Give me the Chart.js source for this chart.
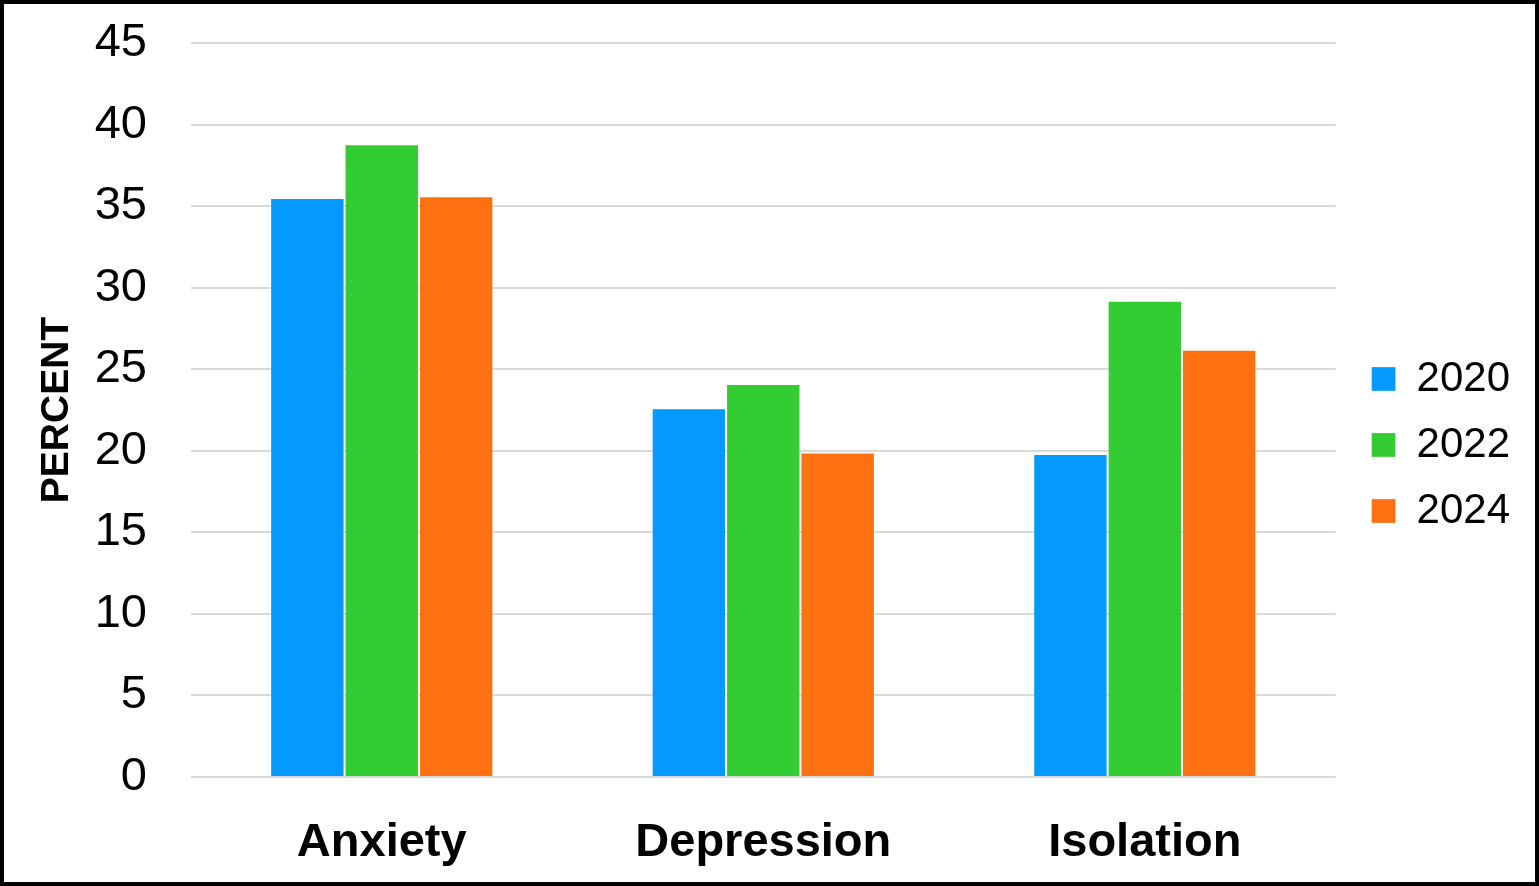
<!DOCTYPE html>
<html>
<head>
<meta charset="utf-8">
<script src="https://cdn.jsdelivr.net/npm/chart.js@4.4.1/dist/chart.umd.min.js"></script>
<style>
  html, body { margin: 0; padding: 0; background: #fff; }
  #wrap { position: absolute; left: 0; top: 0; width: 1539px; height: 886px; box-sizing: border-box; border: 4px solid #000; background: #fff; }
  #c { display: block; }
</style>
</head>
<body>
<div id="wrap"><canvas id="c" width="1531" height="878"></canvas></div>
<script>
const categories = ["Anxiety", "Depression", "Isolation"];
const seriesNames = ["2020", "2022", "2024"];
const values2020 = [35.5, 22.6, 19.8];
const values2022 = [38.8, 24.1, 29.2];
const values2024 = [35.6, 19.9, 26.2];
const yTicks = [0, 5, 10, 15, 20, 25, 30, 35, 40, 45];
const colors = ["#0399FF", "#33CC33", "#FF7010"];

const FONT = "'Liberation Sans', Arial, sans-serif";

// nudge the legend after layout (keeps the plot area size)
const legendShift = {
  id: 'legendShift',
  afterLayout(chart) {
    const lg = chart.legend;
    if (lg) {
      lg.left += 12; lg.right += 12;
      lg.top -= 17; lg.bottom -= 17;
    }
  }
};

new Chart(document.getElementById('c'), {
  type: 'bar',
  data: {
    labels: categories,
    datasets: [values2020, values2022, values2024].map((v, i) => ({
      label: seriesNames[i],
      data: v,
      backgroundColor: colors[i],
      borderColor: 'rgba(255,255,255,0.3)',
      borderWidth: 1,
      barPercentage: 1.0,
      categoryPercentage: 0.585
    }))
  },
  plugins: [legendShift],
  options: {
    responsive: false,
    animation: false,
    devicePixelRatio: 1,
    layout: { padding: { top: 39, right: 27, bottom: 1, left: 0 } },
    plugins: {
      tooltip: { enabled: false },
      legend: {
        position: 'right',
        align: 'center',
        labels: {
          boxWidth: 24,
          boxHeight: 24,
          padding: 24,
          color: '#000',
          font: { family: FONT, size: 42 }
        }
      }
    },
    scales: {
      x: {
        grid: { display: false, drawTicks: false },
        border: { display: false },
        ticks: { color: '#000', padding: 38, font: { family: FONT, size: 47, weight: 'bold' } },
        afterFit: (s) => { s.height = 104; s.paddingLeft = 0; s.paddingRight = 0; }
      },
      y: {
        min: 0,
        max: 45,
        afterBuildTicks: (s) => { s.ticks = yTicks.map(v => ({ value: v })); },
        grid: { color: '#d9d9d9', lineWidth: 2, drawTicks: false },
        border: { display: false },
        ticks: { color: '#000', padding: 44, font: { family: FONT, size: 47 } },
        title: {
          display: true,
          text: 'PERCENT',
          color: '#000',
          font: { family: FONT, size: 39, weight: 'bold' },
          padding: { top: 30, bottom: 0 }
        },
        afterFit: (s) => { s.width = 187; s.paddingTop = 0; s.paddingBottom = 0; }
      }
    }
  }
});
</script>
</body>
</html>
